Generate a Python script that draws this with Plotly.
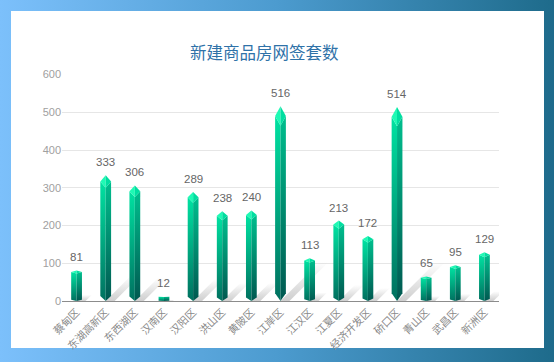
import base64
import plotly.graph_objects as go

categories = ["蔡甸区", "东湖高新区", "东西湖区", "汉南区", "汉阳区", "洪山区", "黄陂区", "江岸区",
              "江汉区", "江夏区", "经济开发区", "硚口区", "青山区", "武昌区", "新洲区"]
values = [81, 333, 306, 12, 289, 238, 240, 516, 113, 213, 172, 514, 65, 95, 129]
y_ticks = [0, 100, 200, 300, 400, 500, 600]
title_text = "新建商品房网签套数"

W, H = 554, 362
X0, X1 = 62, 499
Y0, Y1 = 301, 74.5
n = len(categories)
px_x = (X1 - X0) / n
px_y = (Y0 - Y1) / 600.0

fig = go.Figure()

FONT = "Liberation Sans, Noto Sans CJK SC, sans-serif"
CJK = "Noto Sans CJK SC, sans-serif"

# shadows
for i, v in enumerate(values):
    L = 0.2 * v * px_y
    w = 9
    xs = [i, i + w / px_x, i + (w + L) / px_x, i + L / px_x, i]
    ys = [0, 0, L / px_y, L / px_y, 0]
    fig.add_trace(go.Scatter(
        x=xs, y=ys, mode="lines", line=dict(width=0), fill="toself",
        fillgradient=dict(type="vertical", start=0, stop=max(L / px_y, 1e-6),
                          colorscale=[[0, "rgba(60,60,60,0.25)"], [1, "rgba(60,60,60,0)"]]),
        hoverinfo="skip", showlegend=False))

hw = 0.185
for i, v in enumerate(values):
    c = i
    t = 0.05 * v
    f = 0.05 * v
    b = 0.04 * v
    s = v - t
    fig.add_trace(go.Scatter(
        x=[c - hw, c, c, c - hw, c - hw], y=[s, s - f, 0, b, s],
        mode="lines", line=dict(width=0), fill="toself",
        fillgradient=dict(type="vertical", start=0, stop=v,
                          colorscale=[[0, "rgb(0,112,95)"], [1, "rgb(0,232,165)"]]),
        hoverinfo="skip", showlegend=False))
    fig.add_trace(go.Scatter(
        x=[c + hw, c, c, c + hw, c + hw], y=[s, s - f, 0, b, s],
        mode="lines", line=dict(width=0), fill="toself",
        fillgradient=dict(type="vertical", start=0, stop=v,
                          colorscale=[[0, "rgb(0,88,80)"], [1, "rgb(0,196,145)"]]),
        hoverinfo="skip", showlegend=False))
    fig.add_trace(go.Scatter(
        x=[c, c - hw, c, c], y=[v, s, s - f, v],
        mode="lines", line=dict(width=0), fill="toself", fillcolor="rgb(30,250,180)",
        hoverinfo="skip", showlegend=False))
    fig.add_trace(go.Scatter(
        x=[c, c + hw, c, c], y=[v, s, s - f, v],
        mode="lines", line=dict(width=0), fill="toself", fillcolor="rgb(0,222,160)",
        hoverinfo="skip", showlegend=False))

annotations = []
for i, v in enumerate(values):
    annotations.append(dict(x=i, y=v, text=str(v), showarrow=False, xanchor="center",
                            yanchor="bottom", yshift=5,
                            font=dict(family=FONT, size=11.5, color="#666666")))
annotations.append(dict(xref="paper", yref="paper", x=264 / W, y=1 - 52 / H, text=title_text,
                        showarrow=False, xanchor="center", yanchor="middle",
                        font=dict(family=CJK, size=16.5, color="#2f72a8")))

svg = ('<svg xmlns="http://www.w3.org/2000/svg" width="554" height="362">'
       '<defs><linearGradient id="g" x1="0" y1="0" x2="1" y2="0">'
       '<stop offset="0" stop-color="#7cc0fb"/><stop offset="0.5" stop-color="#4c9bcf"/>'
       '<stop offset="1" stop-color="#1e6b8b"/></linearGradient></defs>'
       '<rect width="554" height="362" fill="url(#g)"/>'
       '<rect x="11" y="11" width="533" height="337" fill="#ffffff"/></svg>')
src = "data:image/svg+xml;base64," + base64.b64encode(svg.encode()).decode()

fig.update_layout(
    width=W, height=H, margin=dict(l=0, r=0, t=0, b=0, autoexpand=False),
    paper_bgcolor="white", plot_bgcolor="rgba(0,0,0,0)",
    font=dict(family=FONT),
    images=[dict(source=src, xref="paper", yref="paper", x=0, y=1, sizex=1, sizey=1,
                 sizing="stretch", xanchor="left", yanchor="top", layer="below")],
    annotations=annotations,
    xaxis=dict(domain=[X0 / W, X1 / W], range=[-0.5, n - 0.5], tickmode="array",
               tickvals=list(range(n)), ticktext=categories, tickangle=-45,
               tickfont=dict(family=CJK, size=10.5, color="#8a8a8a"), automargin=False,
               showgrid=False, zeroline=False, showline=True, linecolor="#8c8c8c",
               linewidth=1, ticks="", fixedrange=True),
    yaxis=dict(domain=[(H - Y0) / H, (H - Y1) / H], range=[0, 600], tickvals=y_ticks,
               tickfont=dict(family=FONT, size=11, color="#a0a0a0"), automargin=False,
               showgrid=True, gridcolor="#e6e6e6", gridwidth=1, zeroline=False,
               showline=False, ticks="", fixedrange=True),
)

fig.write_html("out.html", config={"displayModeBar": False})
